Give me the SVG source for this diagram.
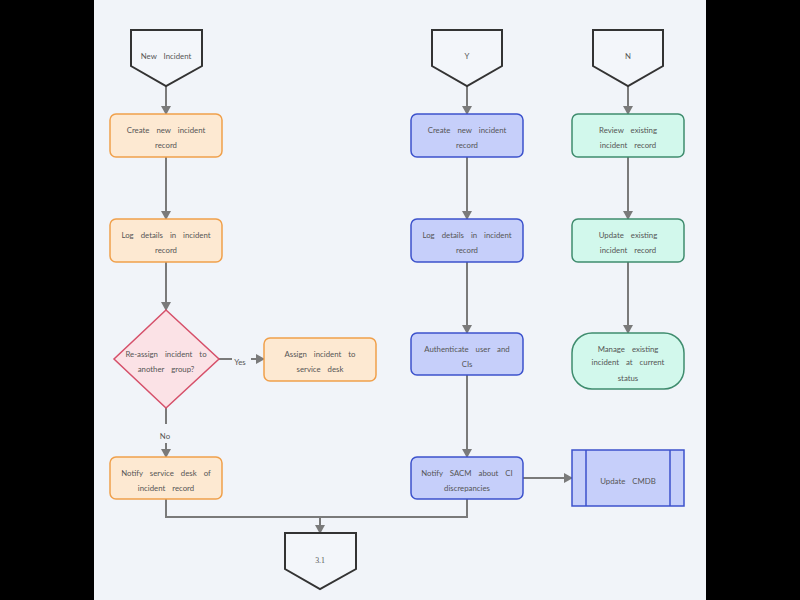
<svg xmlns="http://www.w3.org/2000/svg" width="800" height="600" viewBox="0 0 800 600">
<defs>
<marker id="ah" markerWidth="10" markerHeight="10" refX="8" refY="5" orient="auto" markerUnits="userSpaceOnUse">
<path d="M0,0 L9,5 L0,10 Z" fill="#7a7a7a"/>
</marker>
<style>
text{font-family:Lato,"Liberation Sans",sans-serif;font-size:7.8px;fill:#555;text-anchor:middle;word-spacing:5px}
.term{fill:#f3f6fa;stroke:#333;stroke-width:2}
.or{fill:#fde9d2;stroke:#f0a04b;stroke-width:1.5}
.bl{fill:#c6cffa;stroke:#3c52cc;stroke-width:1.5}
.gr{fill:#d2f8ec;stroke:#3f8c6e;stroke-width:1.5}
.dm{fill:#fbe2e6;stroke:#d6506a;stroke-width:1.5}
.c{fill:none;stroke:#7a7a7a;stroke-width:2}
</style>
</defs>
<rect x="0" y="0" width="800" height="600" fill="#000"/>
<rect x="94" y="0" width="612" height="600" fill="#f1f4f9"/>

<g id="connectors">
<path class="c" d="M166,86 V114" marker-end="url(#ah)"/>
<path class="c" d="M467,86 V114" marker-end="url(#ah)"/>
<path class="c" d="M628,86 V114" marker-end="url(#ah)"/>
<path class="c" d="M166,157 V219" marker-end="url(#ah)"/>
<path class="c" d="M467,157 V219" marker-end="url(#ah)"/>
<path class="c" d="M628,157 V219" marker-end="url(#ah)"/>
<path class="c" d="M166,262 V310" marker-end="url(#ah)"/>
<path class="c" d="M467,262 V333" marker-end="url(#ah)"/>
<path class="c" d="M628,262 V333" marker-end="url(#ah)"/>
<path class="c" d="M219,359 H232"/>
<path class="c" d="M251,359 H264" marker-end="url(#ah)"/>
<text x="240" y="365" style="word-spacing:0">Yes</text>
<path class="c" d="M166,408 V424"/>
<path class="c" d="M166,443 V457" marker-end="url(#ah)"/>
<text x="165" y="439" style="word-spacing:0">No</text>
<path class="c" d="M467,375 V457" marker-end="url(#ah)"/>
<path class="c" d="M523,478 H572" marker-end="url(#ah)"/>
<path class="c" d="M166,499 V517 H467 V499"/>
<path class="c" d="M320,517 V533" marker-end="url(#ah)"/>
</g>

<g id="start-new-incident">
<path class="term" d="M131,30 H202 V66 L166,86 L131,66 Z"/>
<text x="166" y="59">New Incident</text>
</g>
<g id="start-y">
<path class="term" d="M432,30 H502 V66 L467,86 L432,66 Z"/>
<text x="467" y="59">Y</text>
</g>
<g id="start-n">
<path class="term" d="M593,30 H663 V66 L628,86 L593,66 Z"/>
<text x="628" y="59">N</text>
</g>

<g id="create-a">
<rect class="or" x="110" y="114" width="112" height="43" rx="6"/>
<text x="166" y="133">Create new incident</text>
<text x="166" y="148">record</text>
</g>
<g id="log-a">
<rect class="or" x="110" y="219" width="112" height="43" rx="6"/>
<text x="166" y="238">Log details in incident</text>
<text x="166" y="253">record</text>
</g>
<g id="reassign">
<path class="dm" d="M166,310 L219,359 L166,408 L114,359 Z"/>
<text x="166" y="357">Re-assign incident to</text>
<text x="166" y="372">another group?</text>
</g>
<g id="assign">
<rect class="or" x="264" y="338" width="112" height="43" rx="6"/>
<text x="320" y="357">Assign incident to</text>
<text x="320" y="372">service desk</text>
</g>
<g id="notify-sd">
<rect class="or" x="110" y="457" width="112" height="42" rx="6"/>
<text x="166" y="476">Notify service desk of</text>
<text x="166" y="491">incident record</text>
</g>

<g id="create-b">
<rect class="bl" x="411" y="114" width="112" height="43" rx="6"/>
<text x="467" y="133">Create new incident</text>
<text x="467" y="148">record</text>
</g>
<g id="log-b">
<rect class="bl" x="411" y="219" width="112" height="43" rx="6"/>
<text x="467" y="238">Log details in incident</text>
<text x="467" y="253">record</text>
</g>
<g id="authenticate">
<rect class="bl" x="411" y="333" width="112" height="42" rx="6"/>
<text x="467" y="352">Authenticate user and</text>
<text x="467" y="367">CIs</text>
</g>
<g id="notify-sacm">
<rect class="bl" x="411" y="457" width="112" height="42" rx="6"/>
<text x="467" y="476">Notify SACM about CI</text>
<text x="467" y="491">discrepancies</text>
</g>
<g id="update-cmdb">
<rect class="bl" x="572" y="450" width="112" height="56"/>
<path class="bl" d="M586,450 V506 M670,450 V506"/>
<text x="628" y="484">Update CMDB</text>
</g>

<g id="review">
<rect class="gr" x="572" y="114" width="112" height="43" rx="6"/>
<text x="628" y="133">Review existing</text>
<text x="628" y="148">incident record</text>
</g>
<g id="update-existing">
<rect class="gr" x="572" y="219" width="112" height="43" rx="6"/>
<text x="628" y="238">Update existing</text>
<text x="628" y="253">incident record</text>
</g>
<g id="manage">
<rect class="gr" x="572" y="333" width="112" height="56" rx="20"/>
<text x="628" y="352">Manage existing</text>
<text x="628" y="365">incident at current</text>
<text x="628" y="381">status</text>
</g>

<g id="end-3-1">
<path class="term" d="M285,533 H356 V569 L320,589 L285,569 Z"/>
<text x="320" y="563" style="font-family:'Liberation Serif',serif">3.1</text>
</g>
</svg>
